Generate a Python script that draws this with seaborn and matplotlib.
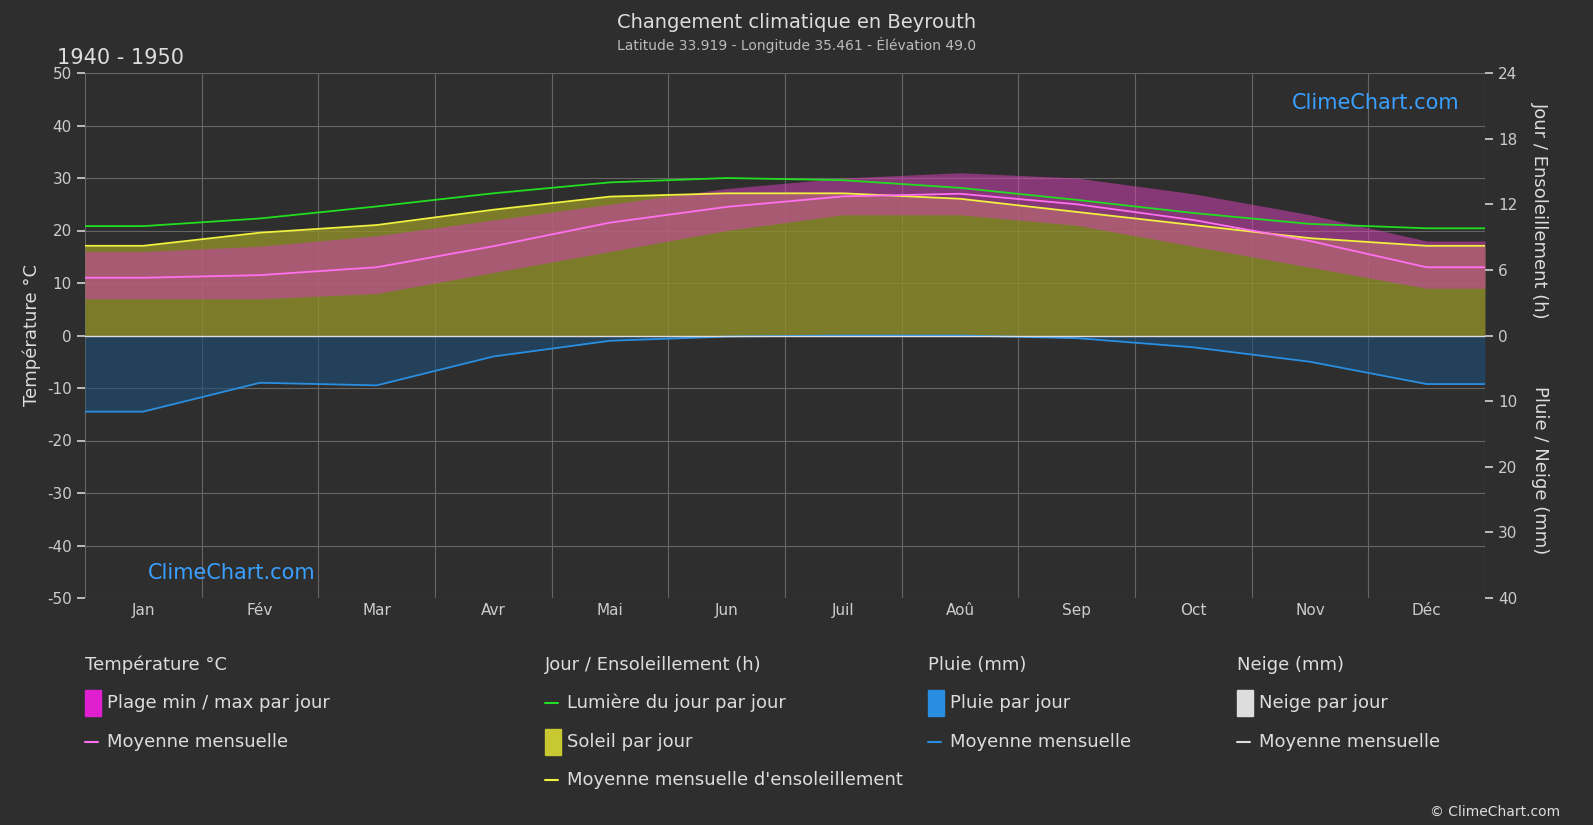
import matplotlib
matplotlib.use("Agg")
import matplotlib.pyplot as plt
import seaborn as sns
import pandas as pd
import numpy as np
from matplotlib.patches import Rectangle

months = ["Jan","Fév","Mar","Avr","Mai","Jun","Juil","Aoû","Sep","Oct","Nov","Déc"]
temp_mean = [11, 11.5, 13, 17, 21.5, 24.5, 26.5, 27, 25, 22, 18, 13]
temp_max = [16, 17, 19, 22, 25, 28, 30, 31, 30, 27, 23, 18]
temp_min = [7, 7, 8, 12, 16, 20, 23, 23, 21, 17, 13, 9]
daylight_h = [10.0, 10.7, 11.8, 13.0, 14.0, 14.4, 14.2, 13.5, 12.4, 11.2, 10.2, 9.8]
sunshine_h = [8.2, 9.4, 10.1, 11.5, 12.7, 13.0, 13.0, 12.5, 11.3, 10.1, 8.9, 8.2]
rain_mm = [11.6, 7.2, 7.6, 3.2, 0.8, 0.16, 0.0, 0.0, 0.4, 1.8, 4.0, 7.4]

BG = "#2e2e2e"
plt.rcParams["axes.unicode_minus"] = False
sns.set_theme(style="dark", rc={"axes.facecolor": BG, "figure.facecolor": BG,
                                 "text.color": "#dddddd", "axes.labelcolor": "#dddddd",
                                 "xtick.color": "#cccccc", "ytick.color": "#cccccc",
                                 "font.family": "DejaVu Sans", "axes.unicode_minus": False})
fig = plt.figure(figsize=(15.93, 8.25), dpi=100)
ax = fig.add_axes([85/1593, 1-598/825, 1400/1593, 525/825])

def ext(v):
    v = list(v)
    return np.array([v[0]] + v + [v[-1]], dtype=float)

x = np.r_[0, np.arange(12) + 0.5, 12]
h2t = 50/24
df = pd.DataFrame({"x": x, "mean": ext(temp_mean), "tmax": ext(temp_max), "tmin": ext(temp_min),
                   "day": ext(daylight_h)*h2t, "sun": ext(sunshine_h)*h2t,
                   "rain": -ext(rain_mm)*1.25})

ax.fill_between(df["x"], 0, df["sun"], color="#8f8f2a", alpha=0.8, lw=0)
ax.fill_between(df["x"], df["tmin"], df["tmax"], color="#d040b0", alpha=0.55, lw=0)
ax.fill_between(df["x"], df["rain"], 0, color="#1d4f78", alpha=0.6, lw=0)
sns.lineplot(data=df, x="x", y="day", ax=ax, color="#22dd22", lw=1.3)
sns.lineplot(data=df, x="x", y="sun", ax=ax, color="#f0f040", lw=1.3)
sns.lineplot(data=df, x="x", y="mean", ax=ax, color="#ff70ee", lw=1.3)
sns.lineplot(data=df, x="x", y="rain", ax=ax, color="#2a8ee0", lw=1.3)
ax.axhline(0, color="#dddddd", lw=1)

ax.set_xlim(0, 12); ax.set_ylim(-50, 50)
ax.set_yticks(range(-50, 51, 10))
ax.set_xticks(np.arange(12) + 0.5); ax.set_xticklabels(months)
ax.set_xticks(range(13), minor=True)
ax.grid(True, which="minor", axis="x", color="#666666", lw=0.8)
ax.grid(True, which="major", axis="y", color="#666666", lw=0.8)
ax.tick_params(axis="x", which="major", length=0)
ax.set_xlabel(""); ax.set_ylabel("Température °C", fontsize=13)
for s in ax.spines.values(): s.set_visible(False)

ax2 = ax.twinx(); ax2.set_ylim(-50, 50)
ax2.set_yticks([0, 12.5, 25, 37.5, 50]); ax2.set_yticklabels(["0","6","12","18","24"])
ax3 = ax.twinx(); ax3.set_ylim(-50, 50)
ax3.set_yticks([-12.5, -25, -37.5, -50]); ax3.set_yticklabels(["10","20","30","40"])
for a in (ax2, ax3):
    for s in a.spines.values(): s.set_visible(False)
    a.tick_params(colors="#cccccc")
fig.text(1540/1593, 1-210/825, "Jour / Ensoleillement (h)", rotation=-90, ha="center", va="center", fontsize=13)
fig.text(1540/1593, 1-470/825, "Pluie / Neige (mm)", rotation=-90, ha="center", va="center", fontsize=13)

fig.text(0.5, 1-22/825, "Changement climatique en Beyrouth", ha="center", va="center", fontsize=14)
fig.text(0.5, 1-45/825, "Latitude 33.919 - Longitude 35.461 - Élévation 49.0", ha="center", va="center", fontsize=10, color="#bbbbbb")
fig.text(57/1593, 1-58/825, "1940 - 1950", ha="left", va="center", fontsize=15)
fig.text(1292/1593, 1-103/825, "ClimeChart.com", color="#3aa0ff", fontsize=15, va="center")
fig.text(148/1593, 1-573/825, "ClimeChart.com", color="#3aa0ff", fontsize=15, va="center")
fig.text(1560/1593, 1-812/825, "© ClimeChart.com", ha="right", va="center", fontsize=10)

def fy(p): return 1-p/825
def fx(p): return p/1593
heads = [(85, "Température °C"), (545, "Jour / Ensoleillement (h)"), (928, "Pluie (mm)"), (1237, "Neige (mm)")]
for px, t in heads:
    fig.text(fx(px), fy(665), t, fontsize=13, va="center")
items = [
    (85, 703, "patch", "#e020d0", "Plage min / max par jour"),
    (85, 742, "line", "#ff70ee", "Moyenne mensuelle"),
    (545, 703, "line", "#22dd22", "Lumière du jour par jour"),
    (545, 742, "patch", "#c8c832", "Soleil par jour"),
    (545, 780, "line", "#f0f040", "Moyenne mensuelle d'ensoleillement"),
    (928, 703, "patch", "#2a8ee0", "Pluie par jour"),
    (928, 742, "line", "#2a8ee0", "Moyenne mensuelle"),
    (1237, 703, "patch", "#dddddd", "Neige par jour"),
    (1237, 742, "line", "#dddddd", "Moyenne mensuelle"),
]
for px, py, kind, c, t in items:
    if kind == "patch":
        fig.patches.append(Rectangle((fx(px), fy(py+13)), fx(16), 26/825, color=c, transform=fig.transFigure))
    else:
        fig.lines.append(plt.Line2D([fx(px), fx(px+13)], [fy(py), fy(py)], color=c, lw=1.5, transform=fig.transFigure))
    fig.text(fx(px+22), fy(py), t, fontsize=13, va="center")

fig.savefig("out.png", dpi=100, facecolor=BG)
